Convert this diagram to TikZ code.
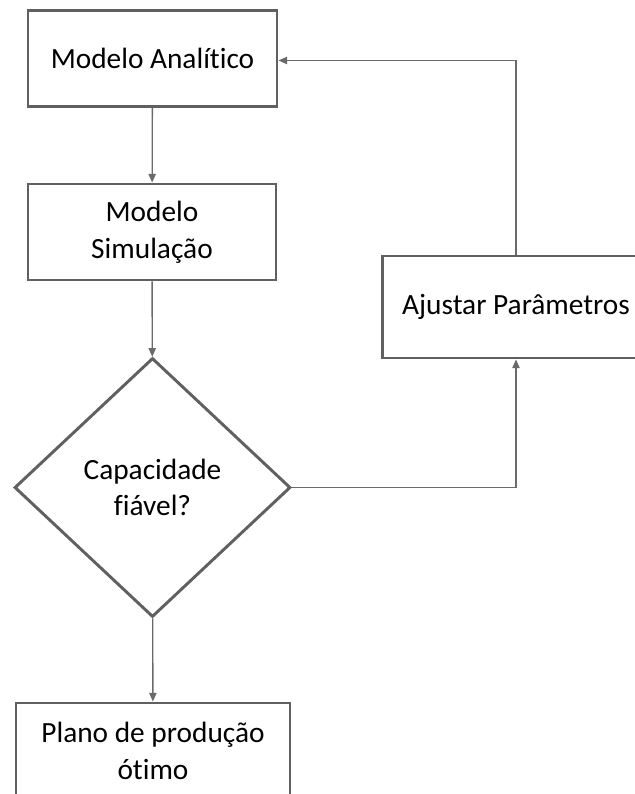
\documentclass[tikz,border=0pt]{standalone}
\usepackage{fontspec}
\setmainfont{Carlito}[Ligatures=NoCommon]
\usetikzlibrary{shapes.geometric,arrows.meta}
\tikzset{
  box/.style={draw=boxgray, line width=2.2pt, fill=white, align=center, inner sep=0pt,
    font=\fontsize{22}{27.5}\selectfont},
  conn/.style={draw=linegray, line width=1pt, -{Triangle[length=6.5pt,width=5.5pt]}},
}
\definecolor{boxgray}{HTML}{606060}
\definecolor{linegray}{HTML}{6A6A6A}
\begin{document}
\begin{tikzpicture}[x=0.75pt,y=-0.75pt]
\useasboundingbox (0,0) rectangle (635,794);
\clip (0,0) rectangle (635,794);
\node[box, minimum width=186.75pt, minimum height=72pt] (ma) at (152.5,58.5) {Modelo Analítico};
\node[box, minimum width=186pt, minimum height=72pt] (ms) at (152,232) {Modelo\\Simulação};
\node[box, shape=diamond, minimum width=207pt, minimum height=194.25pt, aspect=1.066] (cf) at (152.5,487.5) {Capacidade\\fiável?};
\node[box, minimum width=200pt, minimum height=76.5pt] (aj) at (516,307) {Ajustar Parâmetros};
\node[box, minimum width=205.5pt, minimum height=72pt] (pp) at (153,751) {Plano de produção\\ótimo};
\coordinate (c1) at (516,487.5);
\draw[conn] (ma) -- (ms);
\draw[conn] (ms) -- (cf);
\draw[conn] (cf) -- (pp);
\draw[conn] (cf.east) -- (c1) -- (aj.south);
\draw[conn] (aj.north) |- ([yshift=-1.5pt]ma.east);
\end{tikzpicture}
\end{document}
